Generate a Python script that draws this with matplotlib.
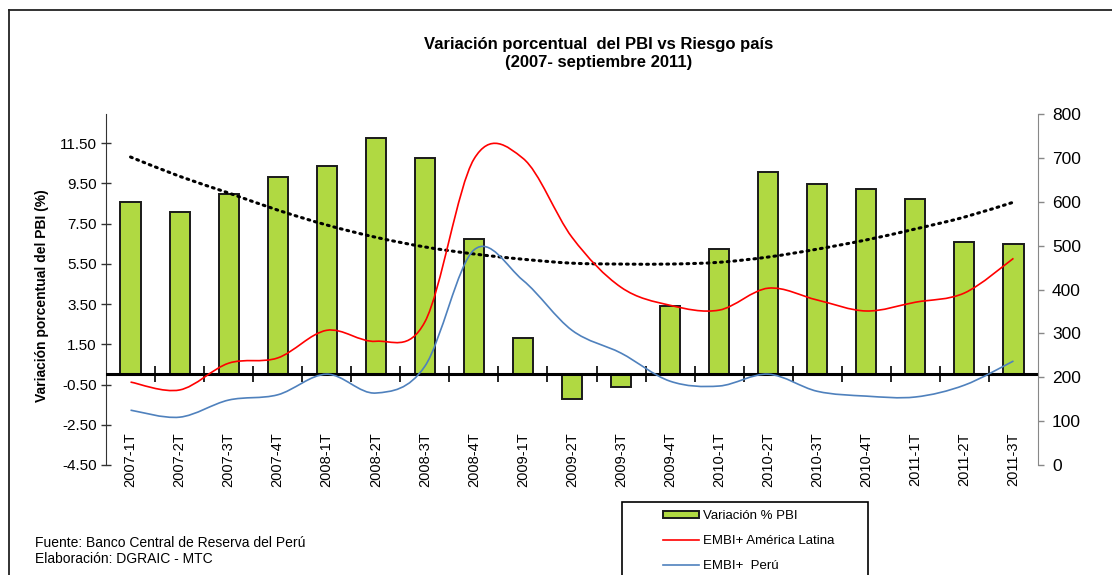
import numpy as np
import matplotlib
matplotlib.use("Agg")
import matplotlib.pyplot as plt
from matplotlib.path import Path
from matplotlib.patches import PathPatch, Patch, Rectangle
from matplotlib.lines import Line2D

plt.rcParams['font.family'] = ['Liberation Sans', 'DejaVu Sans']

# data
quarters = ["2007-1T", "2007-2T", "2007-3T", "2007-4T",
            "2008-1T", "2008-2T", "2008-3T", "2008-4T",
            "2009-1T", "2009-2T", "2009-3T", "2009-4T",
            "2010-1T", "2010-2T", "2010-3T", "2010-4T",
            "2011-1T", "2011-2T", "2011-3T"]
pbi = [8.57, 8.07, 8.97, 9.81, 10.36, 11.75, 10.75, 6.73, 1.81, -1.22,
       -0.62, 3.40, 6.23, 10.06, 9.46, 9.20, 8.72, 6.58, 6.48]
embi_latam = [189, 171, 232, 244, 307, 282, 326, 697, 699, 519,
              405, 364, 353, 403, 376, 351, 371, 392, 471]
embi_peru = [125, 109, 148, 160, 207, 164, 225, 490, 421, 307,
             255, 191, 180, 207, 168, 157, 155, 182, 237]
trend_latam = [702, 658, 620, 581, 547, 519, 497, 481, 469, 460,
               458, 458, 462, 474, 492, 513, 538, 565, 599]

left_ticks = [-4.5, -2.5, -0.5, 1.5, 3.5, 5.5, 7.5, 9.5, 11.5]
right_ticks = [0, 100, 200, 300, 400, 500, 600, 700, 800]


def smooth_path(xs, ys):
    # bezier curve through every point (Excel "smoothed line")
    pts = np.column_stack([xs, ys]).astype(float)
    n = len(pts)
    verts = [pts[0]]
    codes = [Path.MOVETO]
    for i in range(n - 1):
        p0 = pts[i - 1] if i > 0 else pts[i]
        p1 = pts[i]
        p2 = pts[i + 1]
        p3 = pts[i + 2] if i + 2 < n else pts[i + 1]
        verts += [p1 + (p2 - p0) / 6.0, p2 - (p3 - p1) / 6.0, p2]
        codes += [Path.CURVE4] * 3
    return Path(verts, codes)


W, H = 1112, 575
fig = plt.figure(figsize=(W / 100, H / 100), dpi=100)
ax = fig.add_axes([106 / W, 1 - 465 / H, 932 / W, 351 / H])
ax2 = ax.twinx()

x = np.arange(len(quarters))
ax.bar(x, pbi, width=0.41, color='#b0d942', edgecolor='#1a1a1a', linewidth=1.4, zorder=2)
ax.axhline(0, color='black', lw=2.2, zorder=3)
ax.plot(x[:-1] + 0.5, np.zeros(len(x) - 1), ls='none', marker='|', ms=11,
        mew=1.2, color='black', zorder=3)

ax.set_xlim(-0.5, len(quarters) - 0.5)
ax.set_ylim(-4.5, 12.95)
ax.set_yticks(left_ticks)
ax.set_yticklabels(["%.2f" % t for t in left_ticks])
ax.set_xticks(x)
ax.set_xticklabels(quarters, rotation=90, fontsize=10.5)
ax.tick_params(axis='x', length=0, pad=-23.5)
ax.tick_params(axis='y', labelsize=11, length=7, width=1, color='#333333',
               direction='inout', pad=3)
for s in ['top', 'bottom', 'right']:
    ax.spines[s].set_visible(False)
ax.spines['left'].set_color('#333333')

fig.text(42 / W, 1 - 296 / H, "Variación porcentual del PBI (%)", rotation=90,
         ha='center', va='center', fontsize=10, fontweight='bold')

ax2.set_ylim(0, 800)
ax2.set_yticks(right_ticks)
ax2.tick_params(axis='y', labelsize=12.5, length=4, width=1, color='#888888', pad=6)
for s in ['top', 'bottom', 'left']:
    ax2.spines[s].set_visible(False)
ax2.spines['right'].set_color('#888888')

ax2.add_patch(PathPatch(smooth_path(x, trend_latam), fill=False, edgecolor='black',
                        lw=2.2, linestyle=(0, (0.6, 1.6)), capstyle='round'))
ax2.add_patch(PathPatch(smooth_path(x, embi_latam), fill=False, edgecolor='#ff0000', lw=1.2))
ax2.add_patch(PathPatch(smooth_path(x, embi_peru), fill=False, edgecolor='#4f81bd', lw=1.2))

fig.text(599 / W, 1 - 44 / H, "Variación porcentual  del PBI vs Riesgo país",
         ha='center', va='center', fontsize=12, fontweight='bold')
fig.text(599 / W, 1 - 63 / H, "(2007- septiembre 2011)",
         ha='center', va='center', fontsize=12, fontweight='bold')

fig.text(35 / W, 1 - 543 / H, "Fuente: Banco Central de Reserva del Perú",
         ha='left', va='center', fontsize=10)
fig.text(35 / W, 1 - 559 / H, "Elaboración: DGRAIC - MTC",
         ha='left', va='center', fontsize=10)

# outer frame of the chart area
fig.add_artist(Line2D([9 / W, 1], [1 - 10 / H] * 2, color='#222222', lw=1.3))
fig.add_artist(Line2D([9 / W] * 2, [0, 1 - 10 / H], color='#222222', lw=1.3))

# legend box
fig.add_artist(Rectangle((622 / W, -0.02), 246 / W, 1 - 502 / H + 0.02,
                         transform=fig.transFigure, fill=False, edgecolor='black', lw=1.2))
handles = [Patch(facecolor='#b0d942', edgecolor='#1a1a1a', lw=1.4),
           Line2D([], [], color='#ff0000', lw=1.2),
           Line2D([], [], color='#4f81bd', lw=1.2)]
labels = ["Variación % PBI", "EMBI+ América Latina", "EMBI+  Perú"]
fig.legend(handles, labels, loc='upper left', bbox_to_anchor=(663 / W, 1 - 510 / H),
           frameon=False, fontsize=9.5, handlelength=2.7, handleheight=0.5,
           handletextpad=0.3, labelspacing=0.98, borderpad=0, borderaxespad=0)

fig.savefig("out.png", dpi=100)
